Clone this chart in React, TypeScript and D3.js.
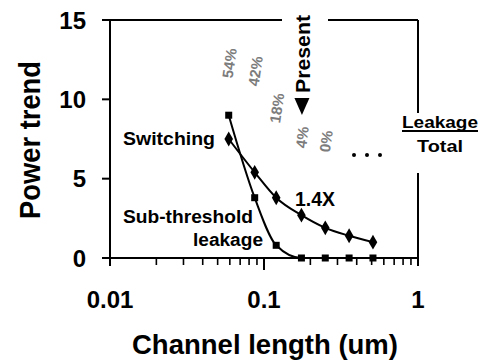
import React from 'react';
import * as d3 from 'd3';

// channel length (um) for each technology node
const lengths = [0.059, 0.087, 0.12, 0.175, 0.25, 0.357, 0.51];
const switching = [7.5, 5.4, 3.8, 2.7, 1.9, 1.4, 1.0];
const leakage = [9.0, 3.8, 0.8, 0, 0, 0, 0];
const ratioLabels = ['54%', '42%', '18%', '4%', '0%'];
const yTicks = [0, 5, 10, 15];
const xMajor = [0.01, 0.1, 1];
const xTickLabels = ['0.01', '0.1', '1'];
const xMinor = [0.02, 0.03, 0.04, 0.05, 0.06, 0.07, 0.08, 0.09, 0.2, 0.3, 0.4, 0.5, 0.6, 0.7, 0.8, 0.9];

const W = 483;
const H = 360;
const left = 110, right = 418, top = 20, bottom = 258;
// vertical centres of the rotated percentage labels
const ratioLabelY = [64, 72, 109, 138, 142];

const font = '"Liberation Sans", Arial, Helvetica, sans-serif';

export default function App() {
  const x = d3.scaleLog().domain([0.01, 1]).range([left, right]);
  const y = d3.scaleLinear().domain([0, 15]).range([bottom, top]);

  const pts = (vals: number[]) => vals.map((v, i) => [lengths[i], v] as [number, number]);
  const line = d3.line<[number, number]>()
    .x((d) => x(d[0])).y((d) => y(d[1]))
    .curve(d3.curveMonotoneX);

  const diamond = d3.symbol().type(d3.symbolDiamond).size(64)();
  const presentX = x(lengths[3]);

  return (
    <svg width={W} height={H} style={{ position: 'absolute', left: 0, top: 0, background: '#fff' }}
      fontFamily={font} fontWeight="bold">
      {/* frame, with gaps for the "Present" and legend labels */}
      <g stroke="#000" strokeWidth={2} fill="none">
        <line x1={left} y1={top} x2={left} y2={bottom + 8} />
        <line x1={left - 8} y1={top} x2={282} y2={top} />
        <line x1={328} y1={top} x2={right} y2={top} />
        <line x1={right} y1={top} x2={right} y2={113} />
        <line x1={right} y1={173} x2={right} y2={bottom + 8} />
        <line x1={left - 8} y1={bottom} x2={right} y2={bottom} />
        {yTicks.map((t) => (
          <line key={t} x1={left - 8} x2={left} y1={y(t)} y2={y(t)} />
        ))}
        {xMajor.map((t, i) => (
          <line key={t} x1={x(t)} x2={x(t)} y1={bottom} y2={bottom + (i === 1 ? 12 : 8)} />
        ))}
        {xMinor.map((t) => (
          <line key={t} x1={x(t)} x2={x(t)} y1={bottom} y2={bottom + 7} strokeWidth={1.6} />
        ))}
      </g>

      {/* tick labels */}
      <g fontSize={24} fill="#000">
        {yTicks.map((t) => (
          <text key={t} x={86} y={y(t)} dy="0.36em" textAnchor="end">{t}</text>
        ))}
        {xMajor.map((t, i) => (
          <text key={t} x={x(t)} y={308} textAnchor="middle">{xTickLabels[i]}</text>
        ))}
      </g>

      {/* axis titles */}
      <text x={265} y={354} fontSize={28} textAnchor="middle" textLength={266} lengthAdjust="spacingAndGlyphs">
        Channel length (um)
      </text>
      <text transform="translate(40,140) rotate(-90)" fontSize={29} textAnchor="middle"
        textLength={158} lengthAdjust="spacingAndGlyphs">
        Power trend
      </text>

      {/* series */}
      <path d={line(pts(switching)) ?? ''} fill="none" stroke="#000" strokeWidth={2} />
      <path d={line(pts(leakage)) ?? ''} fill="none" stroke="#000" strokeWidth={2} />
      {switching.map((v, i) => (
        <path key={i} d={diamond} transform={`translate(${x(lengths[i])},${y(v)})`} fill="#000" />
      ))}
      {leakage.map((v, i) => (
        <rect key={i} x={x(lengths[i]) - 3.5} y={y(v) - 3.5} width={7} height={7} fill="#000" />
      ))}

      {/* series labels */}
      <text x={123} y={145} fontSize={18} textLength={92} lengthAdjust="spacingAndGlyphs">Switching</text>
      <text x={123} y={223} fontSize={18} textLength={130} lengthAdjust="spacingAndGlyphs">Sub-threshold</text>
      <text x={193} y={246} fontSize={18} textLength={70} lengthAdjust="spacingAndGlyphs">leakage</text>
      <text x={295} y={206} fontSize={20} textLength={40} lengthAdjust="spacingAndGlyphs">1.4X</text>

      {/* leakage / total ratios */}
      <g fill="#7c7c7c" fontSize={15}>
        {ratioLabels.map((r, i) => (
          <text key={r} transform={`translate(${x(lengths[i]) + 6},${ratioLabelY[i]}) rotate(-82)`}
            textAnchor="middle">{r}</text>
        ))}
      </g>
      <g fill="#000">
        {[0, 1, 2].map((k) => (
          <circle key={k} cx={354 + k * 13} cy={155} r={2} />
        ))}
      </g>

      {/* present marker */}
      <text transform={`translate(${presentX + 9},93) rotate(-90)`} fontSize={20}
        textLength={78} lengthAdjust="spacingAndGlyphs">Present</text>
      <path d={`M${presentX - 7},98 L${presentX + 8},98 L${presentX + 0.5},115 Z`} fill="#000" />

      {/* legend */}
      <text x={440} y={128} fontSize={17} textAnchor="middle" textLength={76} lengthAdjust="spacingAndGlyphs">Leakage</text>
      <line x1={402} x2={478} y1={131} y2={131} stroke="#000" strokeWidth={1.8} />
      <text x={440} y={152} fontSize={17} textAnchor="middle" textLength={46} lengthAdjust="spacingAndGlyphs">Total</text>
    </svg>
  );
}
